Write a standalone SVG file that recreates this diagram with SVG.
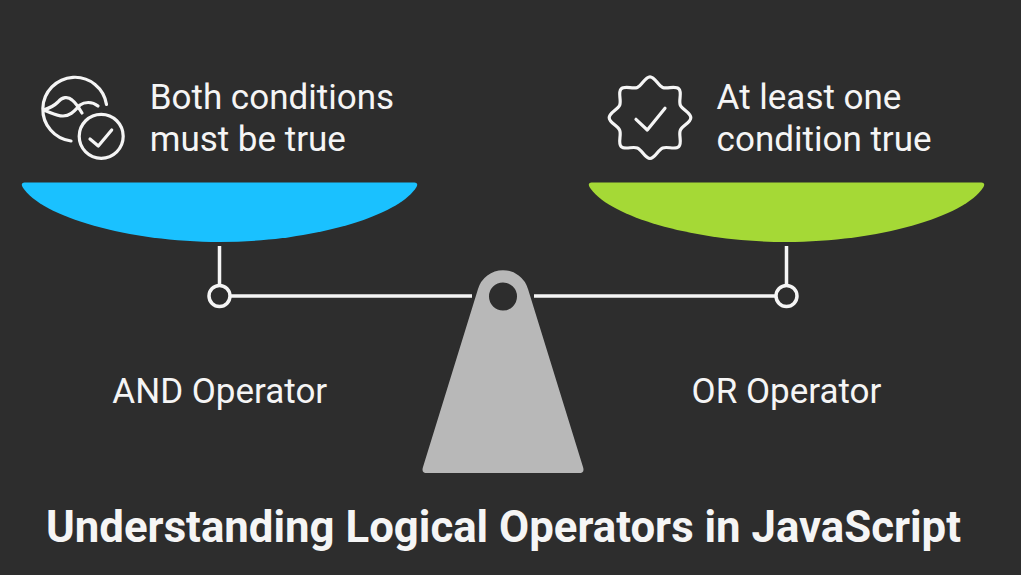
<svg xmlns="http://www.w3.org/2000/svg" width="1021" height="575" viewBox="0 0 1021 575">
<style>
.t{font-family:Roboto,"Liberation Sans",sans-serif;font-size:35px;fill:#f5f5f5}
.l{font-family:Roboto,"Liberation Sans",sans-serif;font-size:35px;fill:#f5f5f5;text-anchor:middle}
.h{font-family:Roboto,"Liberation Sans",sans-serif;font-size:43.75px;font-weight:700;fill:#f5f5f5;text-anchor:middle}
.s{fill:none;stroke:#f5f5f5;stroke-width:3.2;stroke-linecap:round;stroke-linejoin:round}
.b{fill:none;stroke:#f5f5f5;stroke-width:3.5}
</style>
<rect width="1021" height="575" fill="#2d2d2d"/>
<g id="connectors">
<path class="b" d="M219.5 246V285M231 296H472M786.5 246V285M534 296H775.5"/>
</g>
<g id="and-pan">
<path fill="#1ac1ff" d="M24.5 182.5H414.5Q418.5 182.5 416.5 187C398 217 310 242 219.5 242C129 242 41 217 22.500 187Q20.500 182.500 24.500 182.500Z"/>
<circle class="b" cx="219.500" cy="296" r="10.500"/>
<text class="l" x="219.800" y="403">AND Operator</text>
</g>
<g id="and-icon">
<path class="s" d="M106.500 104.500A32 32 0 1 0 71 141"/>
<circle class="s" cx="101.200" cy="136.300" r="22"/>
<path class="s" d="M90 139L98.300 146L111.700 130"/>
<path class="s" d="M43.500 110C50 108 54 106 58 102C62 97 68 96 72 100C76 103 79 108 82 113"/>
<path class="s" d="M43.500 110C50 112 56 116 63 116C71 116 75 110 80 105C84 102 92 101 98 106"/>
</g>
<g id="and-text">
<text class="t" x="149.700" y="109">Both conditions</text>
<text class="t" x="149.700" y="151">must be true</text>
</g>
<g id="or-pan">
<path fill="#a5d936" d="M591.500 182.500H981.500Q985.500 182.500 983.500 187C965 217 877 242 786.500 242C696 242 608 217 589.500 187Q587.500 182.500 591.500 182.500Z"/>
<circle class="b" cx="786.500" cy="296" r="10.500"/>
<text class="l" x="786.500" y="403">OR Operator</text>
</g>
<g id="or-icon">
<path class="s" d="M650 76.900C655 76.900 658.010 85.500 662.630 87.410C667.250 89.320 675.310 85.310 678.850 88.850C682.390 92.390 678.380 100.450 680.290 105.070C682.200 109.690 690.800 112.700 690.800 117.700C690.800 122.700 682.200 125.710 680.290 130.330C678.380 134.950 682.390 143.010 678.850 146.550C675.310 150.090 667.250 146.080 662.630 147.990C658.010 149.900 655 158.500 650 158.500C645 158.500 641.990 149.900 637.370 147.990C632.750 146.080 624.690 150.090 621.150 146.550C617.610 143.010 621.620 134.950 619.710 130.330C617.800 125.710 609.200 122.700 609.200 117.700C609.200 112.700 617.800 109.690 619.710 105.070C621.620 100.450 617.610 92.390 621.150 88.850C624.690 85.310 632.750 89.320 637.370 87.410C641.990 85.500 645 76.900 650 76.900Z"/>
<path class="s" d="M636 119.300L647.300 130L665 108.300"/>
</g>
<g id="or-text">
<text class="t" x="716.600" y="109">At least one</text>
<text class="t" x="716.600" y="151">condition true</text>
</g>
<g id="fulcrum">
<path fill="#b8b8b8" fill-rule="evenodd" d="M478 289A26 26 0 0 1 528 289L583 467Q585 473 579 473H427Q421 473 423 467ZM517 296.500A14 14 0 1 0 489 296.500A14 14 0 1 0 517 296.500Z"/>
</g>
<g id="title">
<text class="h" x="503.500" y="541.500">Understanding Logical Operators in JavaScript</text>
</g>
</svg>
